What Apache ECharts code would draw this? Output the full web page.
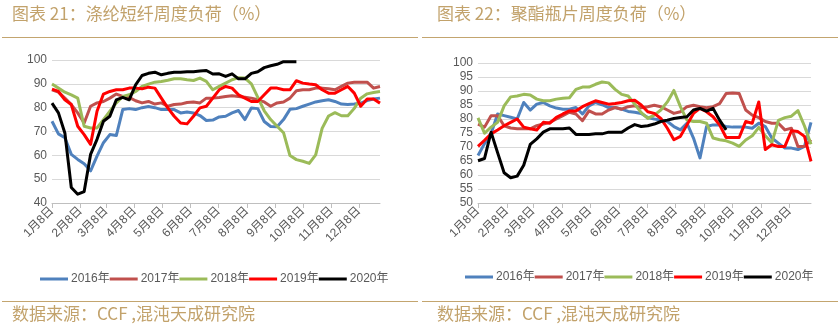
<!DOCTYPE html>
<html>
<head>
<meta charset="utf-8">
<script src="https://cdn.jsdelivr.net/npm/echarts@6/dist/echarts.min.js"></script>
<style>
html,body{margin:0;padding:0;background:#fff;}
#c{width:840px;height:332px;}
</style>
</head>
<body>
<div id="c"></div>
<script>
// ---- categories / ticks ----
const seriesNames = ['2016年', '2017年', '2018年', '2019年', '2020年'];
const monthTickDays = [0, 31, 59, 90, 120, 151, 181, 212, 243, 273, 304, 334];
const monthLabels = ['1月8日', '2月8日', '3月8日', '4月8日', '5月8日', '6月8日', '7月8日', '8月8日', '9月8日', '10月8日', '11月8日', '12月8日'];
const leftTitle = '图表 21：涤纶短纤周度负荷（%）';
const rightTitle = '图表 22：聚酯瓶片周度负荷（%）';
const sourceText = '数据来源：CCF ,混沌天成研究院';

// ---- 涤纶短纤 weekly load (%), week 0 = 1月8日 ----
const psf2016 = [74.3, 69, 67.4, 60.4, 58.3, 56.5, 53.5, 59.7, 65.3, 68.7, 68.3, 79.2, 79.6, 79.2, 80, 80.5, 80, 79.2, 79.2, 79.2, 77.8, 78.2, 77.8, 76.7, 74.6, 74.8,
  76.1, 76.4, 77.8, 78.8, 75, 79.9, 79.6, 74.2, 72.1, 72, 75, 79.3, 79.6, 80.6, 81.5, 82.4, 82.9, 83.3, 82.6, 81.5, 81.3, 81.5, 81.9, 83, 83.6, 84];
const psf2017 = [87.5, 86.5, 84, 81.3, 77.8, 73.6, 80.6, 82, 82.6, 84, 85.7, 84.7, 84.3, 82.9, 82, 82.6, 81.5, 82, 80.6, 81.3, 81.5, 82.2, 82.4, 82, 84, 84,
  84.3, 84.7, 85, 84.7, 84.4, 84, 83.3, 82.4, 80.6, 82, 82.4, 84, 87.1, 87.5, 87.5, 88.2, 88.2, 87.9, 87.5, 88.9, 90.3, 90.7, 90.7, 90.7, 88.2, 88.9];
const psf2018 = [89.9, 88.2, 86.5, 85.4, 84, 72.2, 71.5, 71.5, 75, 78.5, 82, 84.7, 85.4, 86.8, 88.9, 89.9, 90.7, 91, 91.5, 92.1, 92.1, 91.7, 91.4, 92.4, 91, 87.5,
  88.9, 90.3, 91.7, 92.6, 92.4, 90, 84.3, 78.7, 75, 72.2, 69.5, 59.9, 58.2, 57.5, 56.6, 60.2, 71.3, 76.5, 77.9, 76.6, 76.6, 79.7, 84, 85.8, 86.4, 86.8];
const psf2019 = [87.8, 86.8, 83.3, 81.3, 72.2, 68.7, 64.6, 78.5, 85.7, 86.8, 87.5, 87.5, 88.2, 88.2, 87.9, 88.6, 88.2, 84, 79.9, 76.4, 73.6, 73.2, 76.4, 79.9, 80.6, 84,
  87.5, 88.9, 88.2, 85.4, 84, 82.6, 82.6, 85.4, 88.2, 88.2, 87.5, 87.5, 91.3, 90.3, 89.9, 89.6, 87.5, 86.1, 86.1, 87.5, 88.9, 86.1, 80.6, 83.6, 83.6, 81.9];
const psf2020 = [81.9, 77.8, 69.4, 46.5, 43.7, 44.8, 60.4, 66.7, 74.3, 76.4, 83.3, 84.3, 83.3, 89.6, 93.5, 94.4, 94.9, 93.8, 94.4, 94.9, 94.9, 95.1, 95.1, 95.4, 95.6, 94.1,
  94.2, 93.1, 94.2, 92.1, 92.1, 94.4, 95.1, 96.8, 97.6, 98.2, 99.3, 99.3, 99.3];

// ---- 聚酯瓶片 weekly load (%) ----
const pet2016 = [67, 71.2, 74.7, 81.8, 81.2, 80.6, 80, 85.9, 83.2, 85.3, 85.9, 84.7, 83.9, 83.5, 83.5, 84.1, 81.8, 84.7, 85.9, 85.1, 84.1, 84.1, 83.5, 82.7, 82.4, 82,
  80.5, 80, 79.6, 79.1, 77.3, 76.1, 78.5, 73.2, 66.1, 77.3, 77.9, 77.9, 77.3, 77.1, 77.1, 77.1, 76.7, 78.5, 77.3, 73.2, 71.4, 69.6, 69.6, 69.1, 70.2, 78.8];
const pet2017 = [78.2, 77.1, 81.2, 81.2, 77.6, 76.8, 76.5, 76.5, 76.5, 77.6, 78.2, 78.8, 80, 81.2, 82.4, 81.8, 79.4, 82.9, 81.8, 81.8, 83.2, 84.1, 83.5, 84.4, 84.7, 84,
  84.4, 84.9, 84.4, 83.2, 82, 82.6, 84.4, 84.9, 84.4, 84, 84.4, 85.5, 89.1, 89.3, 89.1, 83.2, 81.4, 80.5, 79.1, 78.5, 78.5, 76.1, 76.7, 70.2, 70.2, 72.6];
const pet2018 = [80.4, 74.9, 77.1, 78.8, 84.7, 87.9, 88.2, 88.8, 88.6, 87.1, 86.5, 86.5, 87.1, 87.4, 87.6, 90.6, 91.4, 91.4, 92.4, 93.2, 92.9, 90.6, 88.8, 88.2, 85.3, 82.3,
  80.2, 81.4, 83.2, 86.1, 90.2, 84.4, 79.6, 79.1, 79.1, 78.5, 73.2, 72.6, 72.2, 71.4, 70.2, 72.5, 74, 77, 74, 71.5, 79.5, 80.5, 81, 83, 77.5, 71];
const pet2019 = [70.2, 72.4, 74.7, 76.1, 77.6, 78.8, 80, 77.1, 76.5, 76.1, 78.8, 78.5, 80.6, 81.8, 82.9, 82.9, 84.4, 85.5, 86.5, 85.9, 85.3, 85.5, 85.9, 86.5, 86.7, 85,
  82.6, 82, 80.2, 76.7, 72.6, 73.8, 77.9, 82, 83.8, 82.6, 80.8, 77.9, 73.4, 73.4, 73.4, 79.1, 78.5, 86.1, 69.1, 70.8, 70.2, 70.2, 75.8, 75.5, 73.8, 64.9];
const pet2020 = [65.1, 65.9, 75.3, 68, 60.8, 59, 59.6, 63.5, 70.9, 72.9, 75.3, 76.5, 76.5, 76.5, 76.8, 74.5, 74.5, 74.5, 74.7, 74.7, 75.3, 75.3, 75.3, 76.8, 78, 77.3,
  77.6, 78.2, 79.1, 79.6, 80.2, 80.5, 80.8, 83.2, 83.8, 82.8, 83.8, 79.6, 76.1];

const psfSeries = [psf2016, psf2017, psf2018, psf2019, psf2020];
const petSeries = [pet2016, pet2017, pet2018, pet2019, pet2020];
const colors = ['#4F81BD', '#C0504D', '#9BBB59', '#FF0000', '#000000'];

const labelMap = {};
monthTickDays.forEach((d, i) => { labelMap[d] = monthLabels[i]; });

const baseFont = "'Liberation Sans', 'Noto Sans CJK SC', sans-serif";
const cjkFont = "'Noto Sans CJK SC', sans-serif";
const gold = '#C2A26B';

function xAxis(gi) {
  return {
    type: 'value', gridIndex: gi, min: 0, max: 357,
    axisLine: { show: true, onZero: false, lineStyle: { color: '#BFBFBF', width: 1 } },
    axisTick: { show: true, customValues: monthTickDays, length: 5, lineStyle: { color: '#BFBFBF' } },
    axisLabel: {
      customValues: monthTickDays, rotate: 45, margin: 6,
      formatter: v => labelMap[v] || '',
      color: '#595959', fontSize: 12, fontFamily: baseFont
    },
    splitLine: { show: false }
  };
}
function yAxis(gi, min, max, interval) {
  return {
    type: 'value', gridIndex: gi, min: min, max: max, interval: interval,
    axisLine: { show: false }, axisTick: { show: false },
    axisLabel: { color: '#595959', fontSize: 12, margin: 5, fontFamily: baseFont },
    splitLine: { lineStyle: { color: '#D9D9D9', width: 1 } }
  };
}
function buildSeries(list, gi) {
  return list.map((vals, i) => ({
    name: seriesNames[i], type: 'line', xAxisIndex: gi, yAxisIndex: gi,
    data: vals.map((v, k) => [k * 7, v]),
    showSymbol: false, symbol: 'none',
    lineStyle: { width: 3, color: colors[i], join: 'round' },
    itemStyle: { color: colors[i] },
    z: 2 + i
  }));
}
function legend(left, top) {
  return {
    left: left, top: top, orient: 'horizontal', icon: 'rect',
    itemWidth: 28, itemHeight: 3, itemGap: 0,
    data: seriesNames,
    textStyle: { color: '#595959', fontSize: 12, fontFamily: baseFont, padding: [0, 0, 0, -2] }
  };
}

const chart = echarts.init(document.getElementById('c'), null, { renderer: 'canvas' });
chart.setOption({
  animation: false,
  backgroundColor: '#fff',
  color: colors,
  grid: [
    { left: 52, top: 60, width: 328, height: 143 },
    { left: 478, top: 63, width: 333, height: 140 }
  ],
  xAxis: [xAxis(0), xAxis(1)],
  yAxis: [yAxis(0, 40, 100, 10), yAxis(1, 50, 100, 5)],
  legend: [legend(35, 268), legend(460, 266)],
  series: buildSeries(psfSeries, 0).concat(buildSeries(petSeries, 1)),
  graphic: [
    { type: 'text', left: 12, top: 5, style: { text: leftTitle, fill: gold, font: '17px ' + cjkFont } },
    { type: 'text', left: 437, top: 5, style: { text: rightTitle, fill: gold, font: '17px ' + cjkFont } },
    { type: 'line', shape: { x1: 2, y1: 37.5, x2: 418, y2: 37.5 }, style: { stroke: '#C3A56F', lineWidth: 1 } },
    { type: 'line', shape: { x1: 422, y1: 37.5, x2: 838, y2: 37.5 }, style: { stroke: '#C3A56F', lineWidth: 1 } },
    { type: 'line', shape: { x1: 2, y1: 301.5, x2: 418, y2: 301.5 }, style: { stroke: '#C3A56F', lineWidth: 1 } },
    { type: 'line', shape: { x1: 422, y1: 301.5, x2: 838, y2: 301.5 }, style: { stroke: '#C3A56F', lineWidth: 1 } },
    { type: 'text', left: 12, top: 305, style: { text: sourceText, fill: gold, font: '17px ' + cjkFont } },
    { type: 'text', left: 437, top: 305, style: { text: sourceText, fill: gold, font: '17px ' + cjkFont } }
  ]
});
</script>
</body>
</html>
